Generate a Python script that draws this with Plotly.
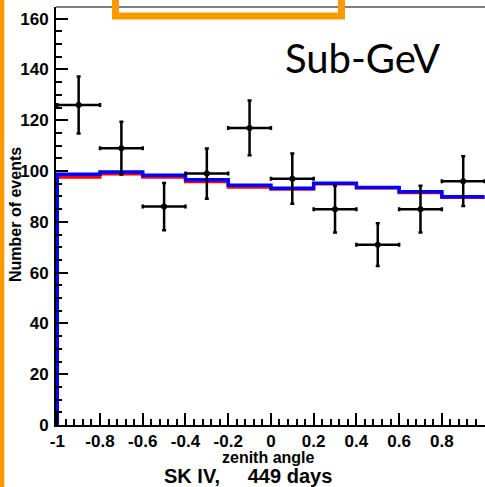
import plotly.graph_objects as go

# Zenith-angle distribution, Sub-GeV sample (cos zenith bins)
bin_edges = [-1.0, -0.8, -0.6, -0.4, -0.2, 0.0, 0.2, 0.4, 0.6, 0.8, 1.0]
data_counts = [126, 109, 86, 99, 117, 97, 85, 71, 85, 96]
data_errors = [11.2, 10.4, 9.3, 9.9, 10.8, 9.9, 9.2, 8.4, 9.2, 9.8]
mc_blue = [98.7, 99.6, 98.3, 96.6, 94.4, 93.2, 95.2, 93.5, 91.8, 89.9]
mc_red = [97.6, 98.8, 97.6, 95.8, 93.6, 92.8, 94.9, 93.3, 91.5, 89.6]

x_tick_vals = [-1, -0.8, -0.6, -0.4, -0.2, 0, 0.2, 0.4, 0.6, 0.8, 1]
x_tick_text = ["-1", "-0.8", "-0.6", "-0.4", "-0.2", "0", "0.2", "0.4", "0.6", "0.8", "1"]
y_tick_vals = [0, 20, 40, 60, 80, 100, 120, 140, 160]

centers = [(a + b) / 2 for a, b in zip(bin_edges[:-1], bin_edges[1:])]
half_widths = [(b - a) / 2 for a, b in zip(bin_edges[:-1], bin_edges[1:])]


def step_xy(values):
    xs = [bin_edges[0]] + bin_edges[:-1] + [bin_edges[-1]]
    ys = [0] + list(values) + [values[-1]]
    return xs, ys


ORANGE = "#FF9900"
BOLD = "Liberation Sans, Arial, sans-serif"

fig = go.Figure()

rx, ry = step_xy(mc_red)
fig.add_trace(go.Scatter(x=rx, y=ry, mode="lines", line=dict(color="#FF0000", width=3, shape="hv"),
                         hoverinfo="skip", showlegend=False))
bx, by = step_xy(mc_blue)
fig.add_trace(go.Scatter(x=bx, y=by, mode="lines", line=dict(color="#0000FF", width=3.5, shape="hv"),
                         hoverinfo="skip", showlegend=False))

fig.add_trace(go.Scatter(
    x=centers, y=data_counts, mode="markers",
    marker=dict(color="black", size=6),
    error_y=dict(type="data", array=data_errors, color="black", thickness=2.5, width=2),
    error_x=dict(type="data", array=half_widths, color="black", thickness=2.5, width=2),
    showlegend=False,
))

axis_font = dict(family=BOLD, size=17, color="black", weight="bold")

fig.update_xaxes(
    range=[-1.006, 1.002], showgrid=False, zeroline=False,
    showline=True, linecolor="black", linewidth=2,
    tickvals=x_tick_vals, ticktext=x_tick_text,
    ticks="inside", ticklen=12, tickwidth=2, tickcolor="black",
    minor=dict(ticks="inside", ticklen=6, tickwidth=2, tickcolor="black", dtick=0.04, tick0=-1, showgrid=False),
    tickfont=axis_font,
)
fig.update_yaxes(
    range=[0, 164.6], showgrid=False, zeroline=False,
    showline=True, linecolor="black", linewidth=2,
    tickvals=y_tick_vals,
    ticks="inside", ticklen=12, tickwidth=2, tickcolor="black",
    minor=dict(ticks="inside", ticklen=6, tickwidth=2, tickcolor="black", dtick=5, showgrid=False),
    tickfont=axis_font, ticklabelstandoff=2,
)

shapes = [
    # frame top edge
    dict(type="line", xref="paper", yref="paper", x0=0, x1=1, y0=1, y1=1,
         line=dict(color="black", width=1)),
    # orange slide border on the left
    dict(type="rect", xref="paper", yref="paper", x0=-0.14, x1=-0.1205, y0=-0.2, y1=1.1,
         fillcolor=ORANGE, line=dict(width=0)),
    # orange box hanging from the top
    dict(type="rect", xref="paper", yref="paper", x0=0.1387, x1=0.6655, y0=0.9785, y1=1.1,
         line=dict(color=ORANGE, width=7), fillcolor="rgba(0,0,0,0)"),
]

title_font = dict(family=BOLD, size=16, color="black", weight="bold")
annotations = [
    dict(text="Number of events", xref="paper", yref="paper", x=-0.0932, y=0.5024,
         xanchor="center", yanchor="middle", textangle=-90, showarrow=False, font=title_font),
    dict(text="zenith angle", xref="paper", yref="paper", x=0.4965, y=-0.052,
         xanchor="center", yanchor="top", showarrow=False,
         font=dict(family=BOLD, size=16, color="black", weight="bold")),
    dict(text="Sub-GeV", xref="paper", yref="paper", x=0.7133, y=0.878,
         xanchor="center", yanchor="middle", showarrow=False,
         font=dict(family="Lato, Open Sans, sans-serif", size=40, color="black")),
    dict(text="SK IV,\u00a0\u00a0\u00a0\u00a0\u00a0449 days", xref="paper", yref="paper", x=0.4476, y=-0.123,
         xanchor="center", yanchor="middle", showarrow=False,
         font=dict(family=BOLD, size=20, color="black", weight="bold")),
]

fig.update_layout(
    width=485, height=487,
    margin=dict(l=56, r=0, t=7, b=62),
    paper_bgcolor="white", plot_bgcolor="white",
    shapes=shapes, annotations=annotations,
)

fig.write_html("out.html")
